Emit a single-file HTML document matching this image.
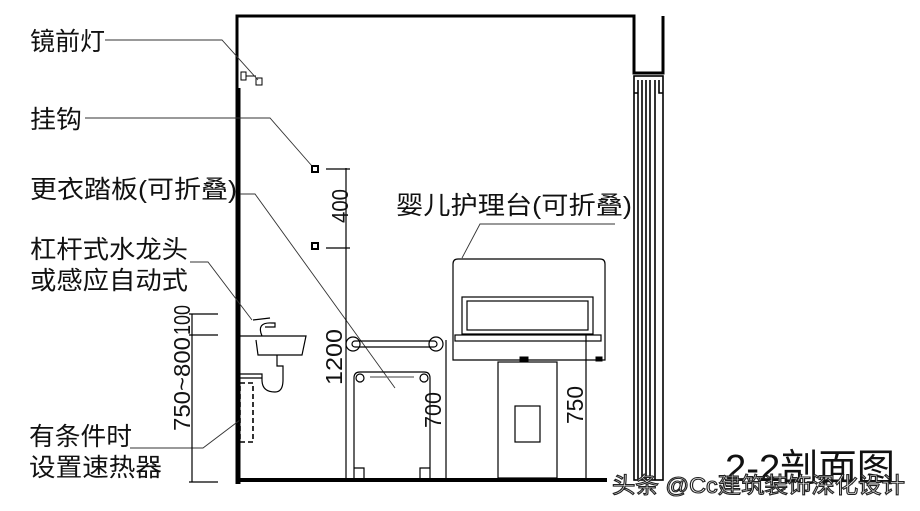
<!DOCTYPE html>
<html><head><meta charset="utf-8"><style>
html,body{margin:0;padding:0;background:#fff;width:920px;height:511px;overflow:hidden}
svg text{font-family:"Liberation Sans","Noto Sans CJK SC",sans-serif;fill:#111}
</style></head><body>
<svg width="920" height="511" viewBox="0 0 920 511" xmlns="http://www.w3.org/2000/svg">
<g fill="none" stroke="#000">
<path d="M237 484 V16 H634 V73 H663 V16" stroke-width="3"/>
<line x1="238" y1="88" x2="238" y2="484" stroke-width="5"/>
<line x1="237" y1="480" x2="607" y2="480" stroke-width="4"/>
<g stroke-width="1.6">
<rect x="634" y="76" width="29" height="404"/>
<line x1="638" y1="80" x2="638" y2="480"/>
<line x1="642" y1="80" x2="642" y2="480"/>
<line x1="646" y1="80" x2="646" y2="480"/>
<line x1="650" y1="80" x2="650" y2="480"/>
<line x1="655" y1="80" x2="655" y2="480"/>
<path d="M634 93 H638 M659 80 V93 H663"/>
</g>
<rect x="241" y="72" width="5" height="8" stroke-width="1"/>
<path d="M246 76 H256" stroke-width="1"/>
<rect x="256" y="78" width="6" height="7" stroke-width="1"/>
<g stroke-width="0.9" stroke="#333">
<polyline points="105,40 222,40 258,80"/>
<polyline points="85,118 270,118 312,166"/>
<polyline points="240,194 255,194 395,388"/>
<polyline points="615,224 480,224 462,258"/>
<polyline points="190,262 208,262 252,320"/>
<polyline points="130,448 203,448 240,420"/>
</g>
<rect x="312" y="166" width="6" height="6" stroke-width="2"/>
<rect x="312" y="243" width="6" height="6" stroke-width="2"/>
<g stroke-width="1.2">
<line x1="346" y1="168" x2="346" y2="480"/>
<path d="M326 169 H350 M326 248 H350"/>
<line x1="446" y1="340" x2="446" y2="480"/>
<rect x="352" y="341" width="85" height="6" rx="3"/>
<circle cx="353" cy="344" r="7"/><circle cx="436" cy="344" r="7"/>
<path d="M354 478 V378 Q354 372 360 372 H424 Q430 372 430 378 V478"/>
<circle cx="360" cy="378" r="4"/><circle cx="424" cy="378" r="4"/>
<line x1="370" y1="377" x2="414" y2="377" stroke="#666"/>
<path d="M354 468 H364 V478 M430 468 H420 V478"/>
<path d="M240 336 H306 L302 355 H258 L256 340"/>
<path d="M262 336 Q256 322 272 323 H275 V327 H265"/>
<path d="M253 320 L270 318"/>
<path d="M277 355 V366 H283 V380 Q283 392 275 392 Q262 392 262 380 V374 H240"/>
<path d="M240 378 H262"/>
<rect x="240" y="383" width="13" height="59" stroke-dasharray="5 3" stroke-width="1.6"/>
<line x1="192" y1="314" x2="192" y2="482"/>
<path d="M189 314 H218 M189 335 H218 M189 482 H218"/>
<path d="M453 360 V264 Q453 259 458 259 H600 Q605 259 605 264 V360 Z"/>
<rect x="462" y="297" width="131" height="37"/>
<rect x="467" y="301" width="121" height="29"/>
<rect x="455" y="335" width="146" height="6"/>
<rect x="498" y="362" width="59" height="116"/>
<rect x="515" y="406" width="25" height="36"/>
<line x1="586" y1="334" x2="586" y2="480"/>
</g>
<rect x="520" y="357" width="8" height="4" fill="#000"/>
<rect x="596" y="357" width="6" height="4" fill="#000"/>
</g>
<g font-size="25">
<text x="30" y="50" textLength="75" lengthAdjust="spacingAndGlyphs">镜前灯</text>
<text x="30" y="128" textLength="52" lengthAdjust="spacingAndGlyphs">挂钩</text>
<text x="30" y="198" textLength="207" lengthAdjust="spacingAndGlyphs">更衣踏板(可折叠)</text>
<text x="30" y="258" textLength="158" lengthAdjust="spacingAndGlyphs">杠杆式水龙头</text>
<text x="30" y="289" textLength="158" lengthAdjust="spacingAndGlyphs">或感应自动式</text>
<text x="29" y="445" textLength="103" lengthAdjust="spacingAndGlyphs">有条件时</text>
<text x="29" y="476" textLength="133" lengthAdjust="spacingAndGlyphs">设置速热器</text>
<text x="396" y="214" textLength="236" lengthAdjust="spacingAndGlyphs">婴儿护理台(可折叠)</text>
</g>
<g font-size="23">
<text transform="translate(348,206) rotate(-90)" text-anchor="middle" textLength="34" lengthAdjust="spacingAndGlyphs">400</text>
<text transform="translate(342,357) rotate(-90)" text-anchor="middle" textLength="56" lengthAdjust="spacingAndGlyphs">1200</text>
<text transform="translate(441,410) rotate(-90)" text-anchor="middle" textLength="36" lengthAdjust="spacingAndGlyphs">700</text>
<text transform="translate(583,405) rotate(-90)" text-anchor="middle" textLength="38" lengthAdjust="spacingAndGlyphs">750</text>
<text transform="translate(190,320) rotate(-90)" text-anchor="middle" textLength="30" lengthAdjust="spacingAndGlyphs">100</text>
<text transform="translate(190,384) rotate(-90)" text-anchor="middle" textLength="94" lengthAdjust="spacingAndGlyphs">750~800</text>
</g>
<text x="725" y="481" font-size="38" textLength="170" lengthAdjust="spacingAndGlyphs">2-2剖面图</text>
<text x="612" y="493" font-size="22" textLength="293" lengthAdjust="spacingAndGlyphs" style="fill:#fff;stroke:#222;stroke-width:1.1">头条 @Cc建筑装饰深化设计</text>
</svg>
</body></html>
